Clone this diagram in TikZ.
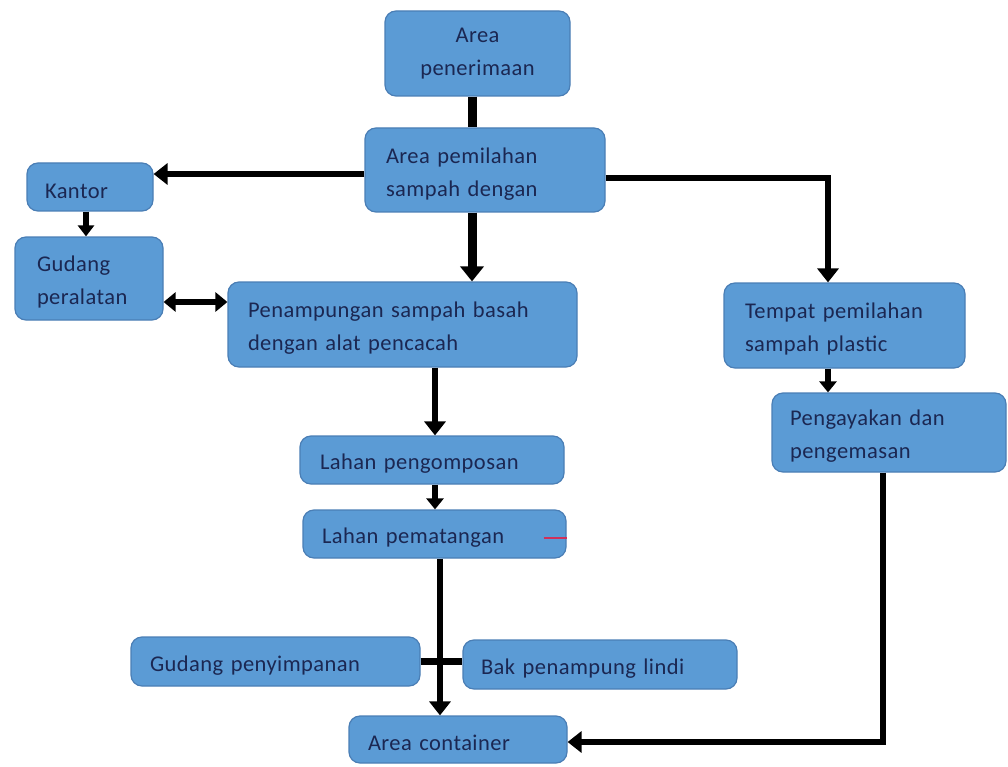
\documentclass[tikz,border=0pt]{standalone}
\usepackage{fontspec}
\setmainfont{Carlito}[WordSpace=0.6, LetterSpace=2]
\usetikzlibrary{arrows.meta}
\definecolor{boxfill}{HTML}{5B9BD5}
\definecolor{boxline}{HTML}{4A7EB5}
\definecolor{boxtext}{HTML}{1B2752}
\definecolor{markred}{HTML}{D0305A}
\begin{document}
\begin{tikzpicture}[x=1pt, y=-1pt,
  box/.style={draw=boxline, line width=1.2pt, fill=boxfill, rounded corners=11pt,
    text=boxtext, font=\fontsize{22.5}{33}\selectfont, align=left, inner ysep=0pt,
    execute at begin node={\rule{0pt}{23pt}}},
  link/.style={line width=6.5pt, black},
  heavy/.style={line width=9pt, black},
  arr/.style={line width=6.5pt, black, -{Triangle[width=21pt,length=14pt]}},
  heavyarr/.style={line width=9pt, black, -{Triangle[width=23pt,length=15pt]}},
  twoway/.style={line width=6pt, black, {Triangle[width=19pt,length=12pt]}-{Triangle[width=19pt,length=12pt]}}]
\useasboundingbox (0,0) rectangle (1008,767);

% process boxes
\node[box, align=center, minimum width=185pt, minimum height=85pt] (pen) at (477.5,53.5) {Area\\penerimaan};
\node[box, minimum width=240pt, minimum height=84pt, inner xsep=21pt, text width=198pt] (pem) at (485,170) {Area pemilahan\\sampah dengan};
\node[box, minimum width=126pt, minimum height=48pt, inner xsep=18pt, text width=90pt] (kan) at (90,187) {Kantor};
\node[box, minimum width=148pt, minimum height=83pt, inner xsep=22pt, text width=104pt] (gud) at (89,278.5) {Gudang\\peralatan};
\node[box, minimum width=349pt, minimum height=85pt, inner xsep=20pt, text width=309pt] (pnp) at (402.5,324.5) {Penampungan sampah basah\\dengan alat pencacah};
\node[box, minimum width=264pt, minimum height=48pt, inner xsep=20pt, text width=224pt] (lp) at (432,460) {Lahan pengomposan};
\node[box, minimum width=263pt, minimum height=48pt, inner xsep=19pt, text width=225pt] (lm) at (434.5,534) {Lahan pematangan};
\node[box, minimum width=289pt, minimum height=49pt, inner xsep=19pt, text width=251pt] (gp) at (275.5,661.5) {Gudang penyimpanan};
\node[box, minimum width=274pt, minimum height=49pt, inner xsep=18pt, text width=238pt] (bak) at (600,664.5) {Bak penampung lindi};
\node[box, minimum width=218pt, minimum height=47pt, inner xsep=19pt, text width=180pt] (ac) at (458,739.5) {Area container};
\node[box, minimum width=241pt, minimum height=85pt, inner xsep=21pt, text width=199pt] (tem) at (844.5,325.5) {Tempat pemilahan\\sampah plastic};
\node[box, minimum width=234pt, minimum height=79pt, inner xsep=18pt, text width=198pt] (pgy) at (889,432.5) {Pengayakan dan\\pengemasan};

% connectors (y grows downward, so a negative yshift moves a point down)
\draw[heavy] ([xshift=-5.5pt]pen.south) -- ([xshift=-13pt]pem.north);
\draw[arr] ([yshift=-4pt]pem.west) -- ([yshift=-4pt]pem.west -| kan.east);
\draw[arr, line width=5.5pt, -{Triangle[width=16pt,length=11pt]}] ([xshift=-4pt]kan.south) -- ([xshift=-4pt]kan.south |- gud.north);
\draw[heavyarr] ([xshift=-13pt]pem.south) -- ([xshift=-13pt]pem.south |- pnp.north);
\draw[arr] ([yshift=-8pt]pem.east) -| ([xshift=-16.5pt]tem.north);
\draw[twoway] ([yshift=-23.5pt]gud.east) -- ([yshift=-23.5pt]gud.east -| pnp.west);
\draw[arr] ([xshift=32.5pt]pnp.south) -- ([xshift=32.5pt]pnp.south |- lp.north);
\draw[arr, -{Triangle[width=17pt,length=11pt]}] ([xshift=3pt]lp.south) -- ([xshift=3pt]lp.south |- lm.north);
\draw[arr] ([xshift=5.5pt]lm.south) -- ([xshift=5.5pt]lm.south |- ac.north);
\draw[link] (gp.east) -- (gp.east -| bak.west);
\draw[arr, -{Triangle[width=17pt,length=11pt]}] ([xshift=-16.5pt]tem.south) -- ([xshift=-16.5pt]tem.south |- pgy.north);
\draw[arr] ([xshift=-6pt]pgy.south) |- ([yshift=-2.5pt]ac.east);

% small red stroke inside the maturing box
\draw[markred, line width=1.3pt] ([xshift=-23pt, yshift=-4pt]lm.east) -- ([yshift=-4pt]lm.east);
\end{tikzpicture}
\end{document}
